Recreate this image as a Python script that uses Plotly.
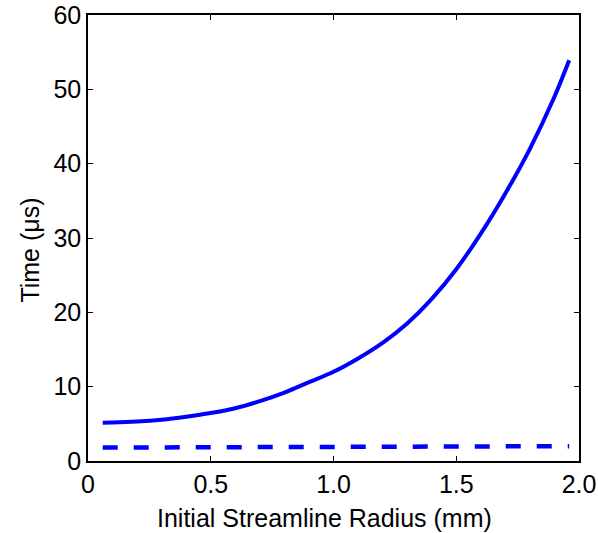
import plotly.graph_objects as go

# Data
radius_solid = [0.06, 0.1, 0.2, 0.3, 0.4, 0.5, 0.6, 0.7, 0.8, 0.9, 1.0, 1.1, 1.2, 1.3, 1.4, 1.5, 1.6, 1.7, 1.8, 1.9, 1.96]
time_solid = [5.15, 5.17, 5.3, 5.55, 5.95, 6.45, 7.1, 8.05, 9.2, 10.6, 12.0, 13.8, 15.9, 18.5, 21.8, 25.8, 30.6, 36.0, 42.0, 49.0, 53.9]

radius_dashed = [0.06, 0.5, 1.0, 1.5, 1.96]
time_dashed = [1.8, 1.82, 1.86, 1.92, 2.0]

x_tickvals = [0, 0.5, 1.0, 1.5, 2.0]
x_ticktext = ["0", "0.5", "1.0", "1.5", "2.0"]
y_tickvals = [0, 10, 20, 30, 40, 50, 60]

x_title = "Initial Streamline Radius (mm)"
y_title = "Time (μs)"

fig = go.Figure()
fig.add_trace(go.Scatter(x=radius_solid, y=time_solid, mode="lines",
                         line=dict(color="#0000FF", width=4, shape="spline", smoothing=1.0),
                         showlegend=False))
fig.add_trace(go.Scatter(x=radius_dashed, y=time_dashed, mode="lines",
                         line=dict(color="#0000FF", width=4.5, dash="15px,16px"),
                         showlegend=False))

font_family = "Liberation Sans, Arial, sans-serif"
fsize = 25
axis_common = dict(showline=True, linecolor="black", linewidth=1.5, mirror="ticks",
                   ticks="inside", ticklen=5, tickcolor="black", tickwidth=1,
                   showgrid=False, zeroline=False, automargin=False,
                   tickfont=dict(family=font_family, size=fsize, color="black"))

fig.update_layout(
    width=598, height=533,
    margin=dict(l=88, r=19, t=15, b=72),
    plot_bgcolor="white", paper_bgcolor="white",
    xaxis=dict(range=[0, 2.0], tickvals=x_tickvals, ticktext=x_ticktext, **axis_common),
    yaxis=dict(range=[0, 60], tickvals=y_tickvals, **axis_common),
    annotations=[
        dict(text=x_title, xref="paper", yref="paper", x=0.482, y=-0.128,
             xanchor="center", yanchor="middle", showarrow=False,
             font=dict(family=font_family, size=fsize, color="black")),
        dict(text=y_title, xref="paper", yref="paper", x=-0.119, y=0.473,
             xanchor="center", yanchor="middle", showarrow=False, textangle=-90,
             font=dict(family=font_family, size=fsize, color="black")),
    ],
)

fig.write_html("out.html")
